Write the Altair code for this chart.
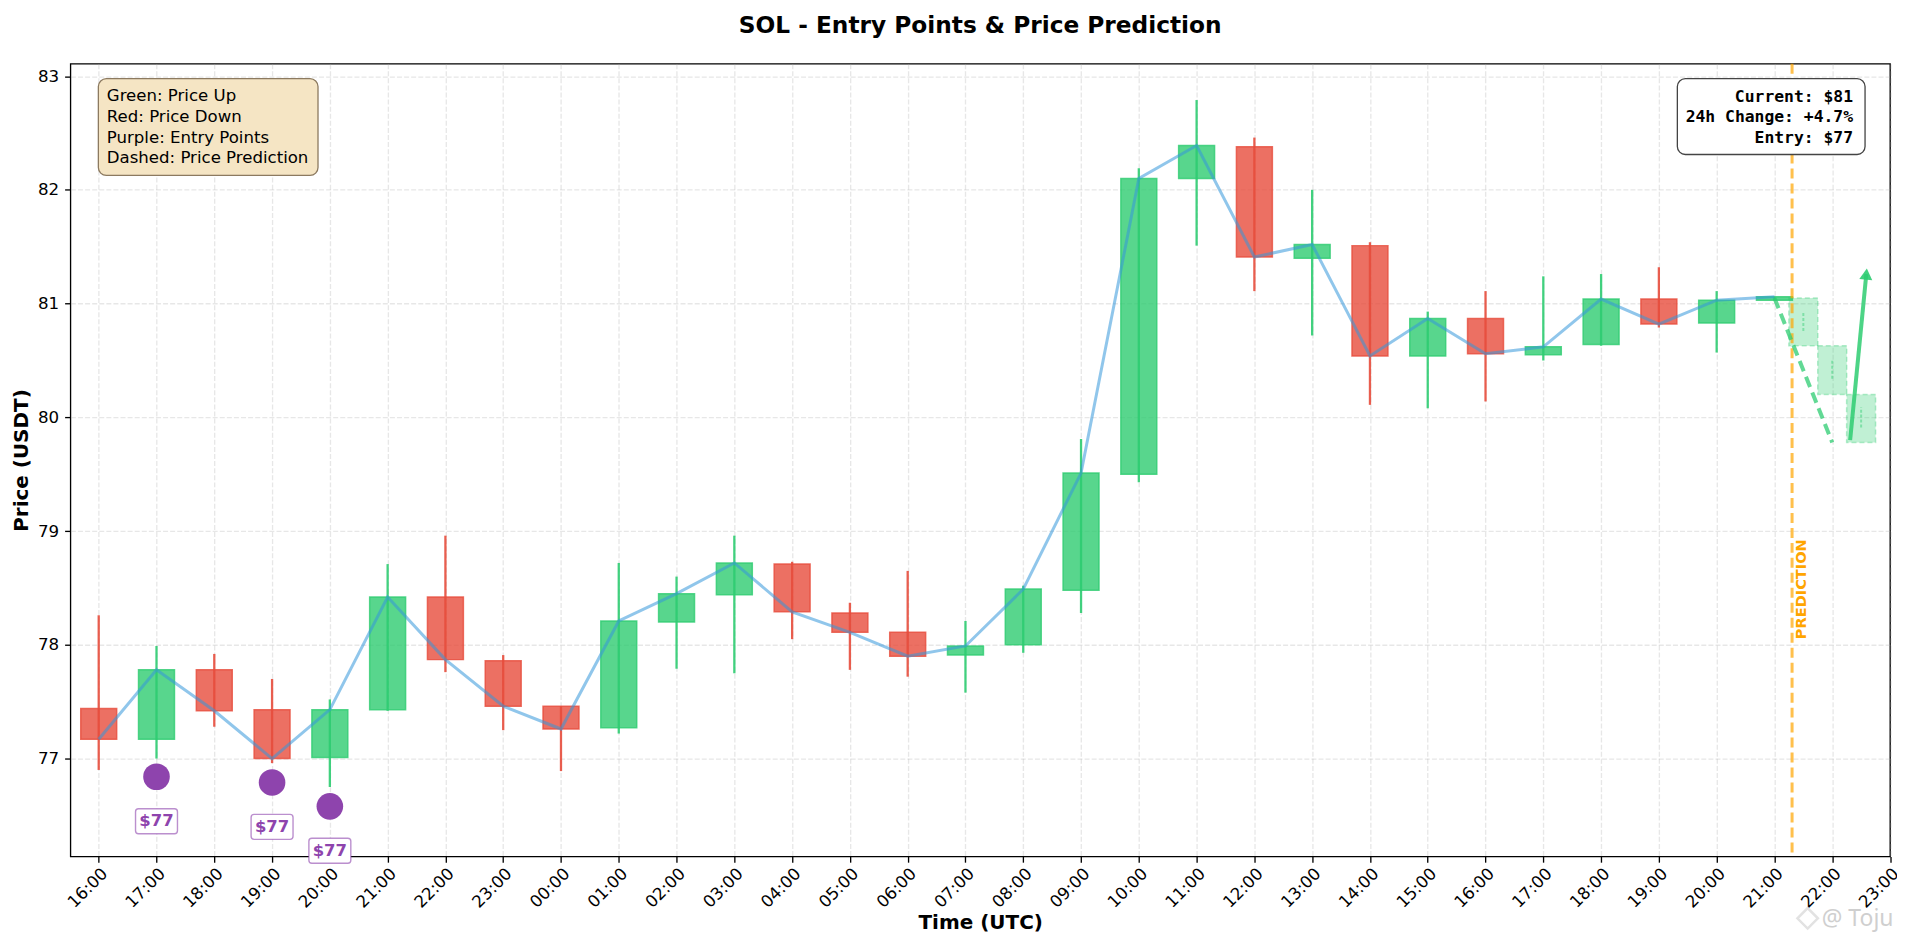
import json
import altair as alt
import pandas as pd

# ---------------- data ----------------
times = ["16:00", "17:00", "18:00", "19:00", "20:00", "21:00", "22:00", "23:00",
         "00:00", "01:00", "02:00", "03:00", "04:00", "05:00", "06:00", "07:00",
         "08:00", "09:00", "10:00", "11:00", "12:00", "13:00", "14:00", "15:00",
         "16:00", "17:00", "18:00", "19:00", "20:00", "21:00"]
opens = [77.44, 77.17, 77.78, 77.43, 77.01, 77.43, 78.42, 77.86, 77.46, 77.27,
         78.20, 78.44, 78.71, 78.28, 78.11, 77.91, 78.00, 78.48, 79.50, 82.10,
         82.38, 81.40, 81.51, 80.54, 80.87, 80.55, 80.64, 81.04, 80.83, 81.03]
highs = [78.26, 77.99, 77.92, 77.70, 77.52, 78.71, 78.96, 77.91, 77.46, 78.72,
         78.60, 78.96, 78.73, 78.37, 78.65, 78.21, 78.52, 79.81, 82.19, 82.79,
         82.46, 82.00, 81.54, 80.93, 81.11, 81.24, 81.26, 81.32, 81.11, 81.06]
lows = [76.90, 77.00, 77.28, 76.96, 76.75, 77.42, 77.76, 77.25, 76.89, 77.22,
        77.79, 77.75, 78.05, 77.78, 77.72, 77.58, 77.93, 78.28, 79.43, 81.51,
        81.11, 80.72, 80.11, 80.08, 80.14, 80.50, 80.63, 80.79, 80.57, 81.03]
closes = [77.17, 77.78, 77.42, 77.00, 77.43, 78.42, 77.87, 77.46, 77.26, 78.21,
          78.45, 78.72, 78.29, 78.11, 77.90, 77.99, 78.49, 79.51, 82.10, 82.39,
          81.41, 81.52, 80.54, 80.87, 80.56, 80.62, 81.04, 80.82, 81.03, 81.06]

tick_labels = ["16:00", "17:00", "18:00", "19:00", "20:00", "21:00", "22:00", "23:00",
               "00:00", "01:00", "02:00", "03:00", "04:00", "05:00", "06:00", "07:00",
               "08:00", "09:00", "10:00", "11:00", "12:00", "13:00", "14:00", "15:00",
               "16:00", "17:00", "18:00", "19:00", "20:00", "21:00", "22:00", "23:00"]
y_ticks = [77, 78, 79, 80, 81, 82, 83]

entry_pos = [1, 3, 4]
entry_vals = [76.84, 76.79, 76.58]
entry_text = ["$77", "$77", "$77"]

pred_pos = [29.5, 30.0, 30.5]
pred_open = [81.05, 80.63, 80.20]
pred_close = [80.63, 80.20, 79.78]
pred_wick_hi = [80.93, 80.51, 80.09]
pred_wick_lo = [80.76, 80.34, 79.91]

pred_line_pos = [29, 30]
pred_line_vals = [81.05, 79.78]

arrow_pos = [30.31, 30.59]
arrow_vals = [79.80, 81.26]

prediction_start = 29.305
prediction_label_pos = 29.345
prediction_label_val = 78.05

legend_lines = ["Green: Price Up", "Red: Price Down", "Purple: Entry Points",
                "Dashed: Price Prediction"]
info_lines = ["Current: $81", "24h Change: +4.7%", "Entry: $77"]

# ---------------- tables ----------------
candles = pd.DataFrame({
    "t": list(range(len(times))), "time": times,
    "open": opens, "high": highs, "low": lows, "close": closes,
})
candles["dir"] = ["up" if c >= o else "down" for o, c in zip(opens, closes)]
candles["top"] = candles[["open", "close"]].max(axis=1)
candles["bot"] = candles[["open", "close"]].min(axis=1)

entries = pd.DataFrame({"t": entry_pos, "v": entry_vals, "label": entry_text})
preds = pd.DataFrame({"t": pred_pos, "open": pred_open, "close": pred_close,
                      "whi": pred_wick_hi, "wlo": pred_wick_lo})
pline = pd.DataFrame({"t": pred_line_pos, "v": pred_line_vals})
arrow = pd.DataFrame({"t": arrow_pos, "v": arrow_vals})
arrow_head = arrow.tail(1)
vline = pd.DataFrame({"t": [prediction_start]})
plabel = pd.DataFrame({"t": [prediction_label_pos], "v": [prediction_label_val]})
one = pd.DataFrame({"a": [0]})

FONT = "DejaVu Sans"
GREEN = "#2ecc71"
RED = "#e74c3c"
PURPLE = "#8e44ad"

x_scale = alt.Scale(domain=[-0.49, 31], nice=False, zero=False, padding=0)
y_scale = alt.Scale(domain=[76.14, 83.11], nice=False, zero=False, padding=0)

x_axis = alt.Axis(values=list(range(len(tick_labels))),
                  labelExpr=f"{json.dumps(tick_labels)}[round(datum.value)]",
                  labelAngle=-45, labelFlush=False, labelOverlap=False,
                  labelPadding=3, title="Time (UTC)", titlePadding=2)
y_axis = alt.Axis(values=y_ticks, format="d", labelOverlap=False, labelFlush=False,
                  labelPadding=6, title="Price (USDT)", titlePadding=6)


def X(field="t"):
    return alt.X(f"{field}:Q", scale=x_scale, axis=x_axis)


def Y(field):
    return alt.Y(f"{field}:Q", scale=y_scale, axis=y_axis)


dir_scale = alt.Scale(domain=["up", "down"], range=[GREEN, RED])

bodies = alt.Chart(candles).mark_bar(size=36, fillOpacity=0.8, strokeOpacity=0.8,
                                     strokeWidth=1.5).encode(
    x=X(), y=Y("bot"), y2="top",
    fill=alt.Fill("dir:N", scale=dir_scale, legend=None),
    stroke=alt.Stroke("dir:N", scale=dir_scale, legend=None),
)
wicks = alt.Chart(candles).mark_rule(strokeWidth=2.3, opacity=0.9).encode(
    x=X(), y=Y("low"), y2="high",
    color=alt.Color("dir:N", scale=dir_scale, legend=None),
)
close_line = alt.Chart(candles).mark_line(color="#3498db", opacity=0.55,
                                          strokeWidth=3).encode(x=X(), y=Y("close"))

pred_bodies = alt.Chart(preds).mark_bar(size=29, fill=GREEN, fillOpacity=0.3,
                                        stroke=GREEN, strokeOpacity=0.35,
                                        strokeDash=[5, 3], strokeWidth=1.5).encode(
    x=X(), y=Y("close"), y2="open")
pred_wicks = alt.Chart(preds).mark_rule(color=GREEN, opacity=0.45, strokeDash=[3, 2],
                                        strokeWidth=2).encode(x=X(), y=Y("wlo"), y2="whi")
pred_rule = alt.Chart(vline).mark_rule(color="orange", opacity=0.7, strokeWidth=3,
                                       strokeDash=[10, 5]).encode(x=X())
pred_line = alt.Chart(pline).mark_line(color=GREEN, opacity=0.75, strokeWidth=4,
                                       strokeDash=[11, 6]).encode(x=X(), y=Y("v"))
arrow_line = alt.Chart(arrow).mark_line(color=GREEN, opacity=0.85,
                                        strokeWidth=4).encode(x=X(), y=Y("v"))
arrow_tip = alt.Chart(arrow_head).mark_point(shape="triangle-up", filled=True, size=170,
                                             angle=5.5, color=GREEN, opacity=0.9).encode(
    x=X(), y=Y("v"))
pred_text = alt.Chart(plabel).mark_text(text="PREDICTION", angle=270, align="left",
                                        baseline="top", font=FONT, fontSize=14.6,
                                        fontWeight="bold", color="orange").encode(
    x=X(), y=Y("v"))

dots = alt.Chart(entries).mark_circle(size=710, color=PURPLE, opacity=1).encode(
    x=X(), y=Y("v"))
label_boxes = alt.Chart(entries).mark_rect(fill="white", stroke=PURPLE, strokeOpacity=0.6,
                                           strokeWidth=1.4, cornerRadius=3,
                                           xOffset=-21, x2Offset=21,
                                           yOffset=32, y2Offset=57).encode(
    x=X(), x2="t", y=Y("v"), y2="v")
label_text = alt.Chart(entries).mark_text(dy=44.5, baseline="middle", font=FONT,
                                          fontSize=16.5, fontWeight="bold",
                                          color=PURPLE).encode(
    x=X(), y=Y("v"), text="label:N")

legend_box = alt.Chart(one).mark_rect(fill="#f5e5c4", stroke="#8c7a60", strokeWidth=1.3,
                                      cornerRadius=8).encode(
    x=alt.value(28), x2=alt.value(248), y=alt.value(15), y2=alt.value(112))
legend_text = alt.Chart(one).mark_text(text=legend_lines, align="left", baseline="middle",
                                       lineHeight=21, font=FONT, fontSize=16.6,
                                       color="black").encode(
    x=alt.value(36.5), y=alt.value(32))
info_box = alt.Chart(one).mark_rect(fill="white", stroke="#444444", strokeWidth=1.3,
                                    cornerRadius=8).encode(
    x=alt.value(1609.5), x2=alt.value(1797.5), y=alt.value(15), y2=alt.value(91))
info_text = alt.Chart(one).mark_text(text=info_lines, align="right", baseline="middle",
                                     lineHeight=20.5, font="DejaVu Sans Mono",
                                     fontSize=16.4, fontWeight="bold",
                                     color="black").encode(
    x=alt.value(1785.5), y=alt.value(33))
watermark_logo = alt.Chart(one).mark_point(shape="diamond", size=420, filled=False,
                                           stroke="#d6d6d6", strokeWidth=2.5).encode(
    x=alt.value(1740), y=alt.value(856))
watermark = alt.Chart(one).mark_text(text="@ Toju", align="right", baseline="middle",
                                     font="Noto Sans", fontSize=23,
                                     color="#cfcfcf").encode(
    x=alt.value(1826), y=alt.value(857))

chart = alt.layer(
    bodies, wicks, close_line, pred_bodies, pred_wicks, pred_rule, pred_line,
    arrow_line, arrow_tip, pred_text, dots, label_boxes, label_text,
    legend_box, legend_text, info_box, info_text, watermark_logo, watermark,
).properties(
    width=1822.5, height=794,
    background="white",
    title=alt.TitleParams("SOL - Entry Points & Price Prediction", font=FONT,
                          fontSize=23.3, fontWeight="bold", color="black",
                          anchor="middle", offset=24),
    autosize=alt.AutoSizeParams(type="none"),
    padding={"left": 62.5, "top": 55, "right": 7, "bottom": 78},
).configure_view(
    stroke="black", strokeWidth=1.33,
).configure_axis(
    domain=False, tickColor="black", tickSize=5.8, tickWidth=1.33,
    labelFont=FONT, labelFontSize=16.7, labelColor="black",
    titleFont=FONT, titleFontSize=20, titleFontWeight="bold", titleColor="black",
    grid=True, gridColor="#b0b0b0", gridOpacity=0.3, gridDash=[5, 2.1], gridWidth=1.33,
)

chart.save("out.html", embed_options={"renderer": "svg", "actions": False})
